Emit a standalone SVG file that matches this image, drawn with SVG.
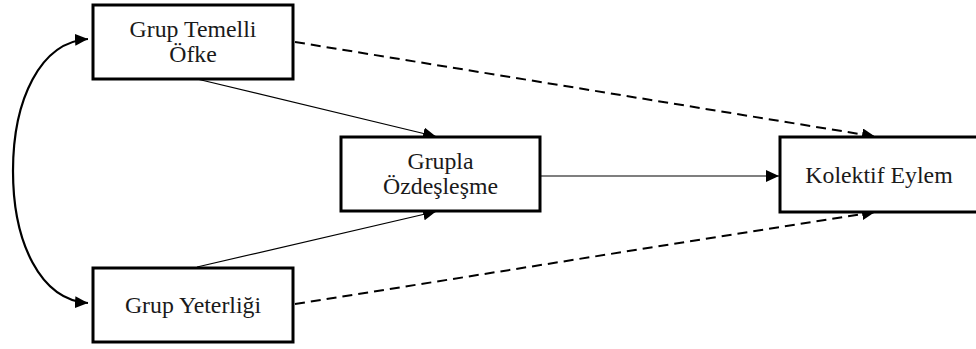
<svg xmlns="http://www.w3.org/2000/svg" width="976" height="349" viewBox="0 0 976 349">
  <style>
    .box { fill: #ffffff; stroke: #000000; stroke-width: 3; }
    .lbl { font-family: "Liberation Serif", "Times New Roman", serif; font-size: 23.8px; fill: #1a1a1a; text-anchor: middle; }
    .solid { fill: none; stroke: #000000; stroke-width: 1.2; }
    .dash { fill: none; stroke: #000000; stroke-width: 2; stroke-dasharray: 10 6; }
    .curve { fill: none; stroke: #000000; stroke-width: 2.2; }
  </style>
  <defs>
    <marker id="ah" markerUnits="userSpaceOnUse" markerWidth="14" markerHeight="12" refX="13" refY="6" orient="auto-start-reverse">
      <path d="M0,0 L13,6 L0,12 Z" fill="#000000"/>
    </marker>
  </defs>
  <rect width="976" height="349" fill="#ffffff"/>
  <g id="connectors">
    <path class="solid" d="M197,79 L436,136.5" marker-end="url(#ah)"/>
    <path class="solid" d="M197,267 L436,211.5" marker-end="url(#ah)"/>
    <path class="solid" d="M541,176 L779,176" marker-end="url(#ah)"/>
    <path class="dash" d="M295,42 L875,136.5" marker-end="url(#ah)"/>
    <path class="dash" d="M295,304 L875,212" marker-end="url(#ah)"/>
    <path class="curve" d="M88,39 C40,42 13,100 13,171 C13,242 40,300 88,303" marker-start="url(#ah)" marker-end="url(#ah)"/>
  </g>
  <g id="node-ofke">
    <rect class="box" x="93" y="5" width="200" height="74"/>
    <text class="lbl" x="193" y="37">Grup Temelli</text>
    <text class="lbl" x="193" y="62">Öfke</text>
  </g>
  <g id="node-yeterlik">
    <rect class="box" x="93" y="268" width="200" height="74"/>
    <text class="lbl" x="193" y="313">Grup Yeterliği</text>
  </g>
  <g id="node-ozdeslesme">
    <rect class="box" x="341" y="137" width="199" height="74"/>
    <text class="lbl" x="440.5" y="169">Grupla</text>
    <text class="lbl" x="440.5" y="194">Özdeşleşme</text>
  </g>
  <g id="node-eylem">
    <rect class="box" x="780" y="137" width="210" height="75"/>
    <text class="lbl" x="879" y="183">Kolektif Eylem</text>
  </g>
</svg>
